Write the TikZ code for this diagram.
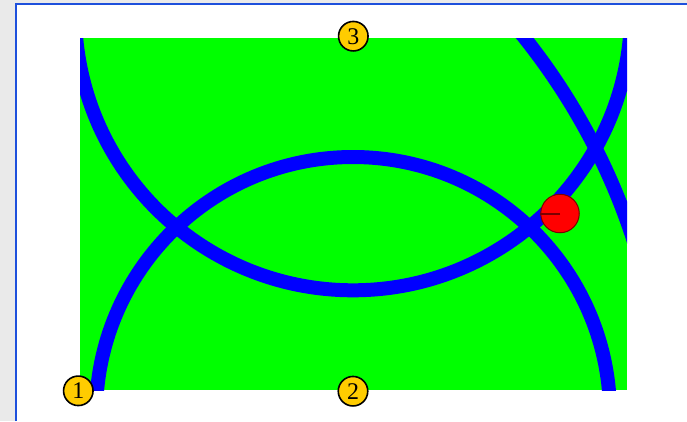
\documentclass[tikz,border=0pt]{standalone}
\usepackage{fontspec}
\setmainfont{Liberation Serif}
\definecolor{pagegray}{HTML}{EAEAEA}
\definecolor{frameblue}{HTML}{1E50DC}
\definecolor{bggreen}{HTML}{00FF00}
\definecolor{arcblue}{HTML}{0000FF}
\definecolor{markyellow}{HTML}{FFCC00}
\definecolor{ptred}{HTML}{FF0000}
\definecolor{ptdark}{HTML}{7A0000}
\begin{document}
\begin{tikzpicture}[x=1bp,y=1bp,
  marker/.style={circle, draw=black, line width=1.6bp, fill=markyellow, minimum size=29.5bp, inner sep=0pt, font=\fontsize{24}{24}\selectfont},
  arcline/.style={draw=arcblue, line width=14bp},
  redpt/.style={circle, draw=ptdark, line width=1bp, fill=ptred, minimum size=38.5bp, inner sep=0pt}]
\useasboundingbox (0,0) rectangle (687,-421);
\fill[pagegray] (0,0) rectangle (687,-421);
\fill[white] (16,-4) rectangle (687,-421);
\draw[frameblue, line width=2bp] (16,-421) -- (16,-4) -- (687,-4);
\fill[bggreen] (80,-38) rectangle (627,-390);
\begin{scope}
  \clip (80,-38) rectangle (627,-390);
  \draw[arcline] (353,-12.3) circle[radius=278];
  \draw[arcline] (353,-414) circle[radius=257];
  \draw[arcline] (19,-440) circle[radius=646];
\end{scope}
\node[redpt] (pt) at (560,-213.5) {};
\draw[ptdark, line width=2bp] (pt.center) -- (pt.west);
\node[marker] (m1) at (78.3,-390.8) {1};
\node[marker] (m2) at (353,-391.2) {2};
\node[marker] (m3) at (353.3,-36.2) {3};
\end{tikzpicture}
\end{document}
